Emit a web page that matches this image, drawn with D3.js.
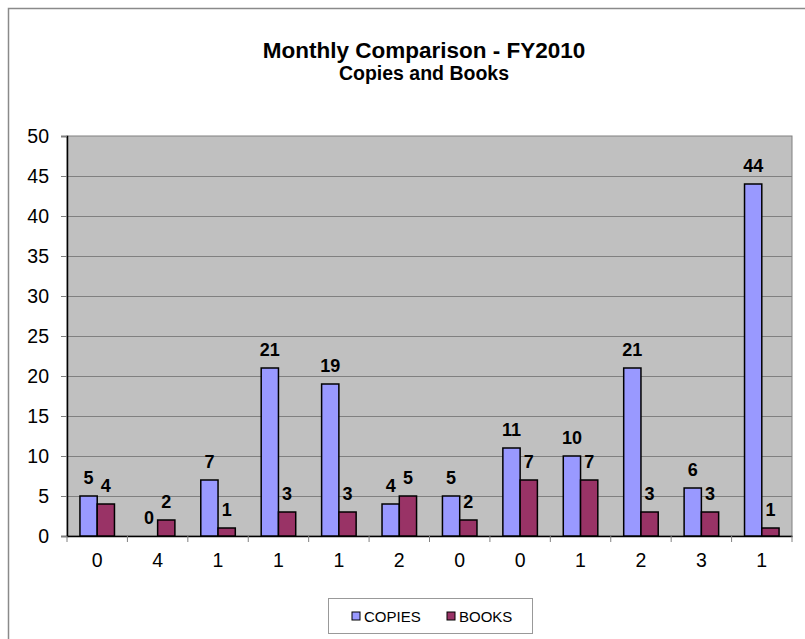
<!DOCTYPE html>
<html lang="en">
<head>
  <meta charset="UTF-8">
  <script src="https://d3js.org/d3.v7.min.js"></script>
  <title>Monthly Comparison - FY2010</title>
  <style>
    body { margin: 0; background: #fff; }
    svg text { font-family: "Liberation Sans", Arial, sans-serif; fill: #000; }
    .grid line { stroke: #808080; stroke-width: 1px; }
    .bar { stroke: #000; stroke-width: 1.5px; }
  </style>
</head>
<body>
  <svg></svg>
  <script>
    // chart data
    const categories = ['0', '4', '1', '1', '1', '2', '0', '0', '1', '2', '3', '1']
    const seriesNames = ['COPIES', 'BOOKS']
    const copies = [5, 0, 7, 21, 19, 4, 5, 11, 10, 21, 6, 44]
    const books = [4, 2, 1, 3, 3, 5, 2, 7, 7, 3, 3, 1]
    const yTicks = [0, 5, 10, 15, 20, 25, 30, 35, 40, 45, 50]
    const colors = ['#9999FF', '#993366']

    const WIDTH = 805
    const HEIGHT = 639
    const plot = { left: 67, top: 136, right: 792, bottom: 536 }

    const svg = d3.select('svg')
      .attr('width', WIDTH)
      .attr('height', HEIGHT)

    // outer chart border (runs off the right and bottom edges)
    svg.append('rect')
      .attr('x', 8.5).attr('y', 8.5)
      .attr('width', 900).attr('height', 900)
      .attr('fill', '#fff')
      .attr('stroke', '#8a8a8a')
      .attr('stroke-width', 1.5)

    // titles
    svg.append('text')
      .attr('x', 424).attr('y', 58)
      .attr('text-anchor', 'middle')
      .style('font-size', '22.5px').style('font-weight', 'bold')
      .text('Monthly Comparison - FY2010')
    svg.append('text')
      .attr('x', 424).attr('y', 80)
      .attr('text-anchor', 'middle')
      .style('font-size', '19.5px').style('font-weight', 'bold')
      .text('Copies and Books')

    const x0 = d3.scaleBand()
      .domain(d3.range(categories.length))
      .range([plot.left, plot.right])
      .padding(0)

    const x1 = d3.scaleBand()
      .domain(seriesNames)
      .range([0, x0.bandwidth()])
      .paddingInner(0)
      .paddingOuter(0.75)

    const y = d3.scaleLinear()
      .domain([0, 50])
      .range([plot.bottom, plot.top])

    // plot area
    svg.append('rect')
      .attr('x', plot.left).attr('y', plot.top)
      .attr('width', plot.right - plot.left)
      .attr('height', plot.bottom - plot.top)
      .attr('fill', '#C0C0C0')
      .attr('stroke', '#808080')

    svg.append('g')
      .attr('class', 'grid')
      .selectAll('line')
      .data(yTicks.filter((d) => d > 0 && d < 50))
      .enter().append('line')
      .attr('x1', plot.left).attr('x2', plot.right)
      .attr('y1', (d) => y(d) + 0.5).attr('y2', (d) => y(d) + 0.5)

    // axes
    const yAxis = svg.append('g')
      .attr('transform', `translate(${plot.left},0)`)
      .call(d3.axisLeft(y).tickValues(yTicks).tickSize(6).tickPadding(12))
    yAxis.select('.domain').attr('stroke', '#000').attr('stroke-width', 1.5)
    yAxis.selectAll('.tick line').attr('stroke', '#808080')
    yAxis.selectAll('text')
      .style('font-size', '19.5px')
      .style('font-family', '"Liberation Sans", Arial, sans-serif')
      .attr('fill', '#000')

    const xAxis = svg.append('g')
      .attr('transform', `translate(0,${plot.bottom})`)
      .call(d3.axisBottom(x0).tickSize(0).tickPadding(17).tickFormat((i) => categories[i]))
    xAxis.select('.domain').attr('stroke', '#000').attr('stroke-width', 1.5)
    xAxis.selectAll('text')
      .style('font-size', '19.5px')
      .style('font-family', '"Liberation Sans", Arial, sans-serif')
      .attr('fill', '#000')

    // tick marks on band edges
    svg.append('g')
      .selectAll('line')
      .data(d3.range(categories.length + 1))
      .enter().append('line')
      .attr('x1', (i) => x0(0) + i * x0.step())
      .attr('x2', (i) => x0(0) + i * x0.step())
      .attr('y1', plot.bottom).attr('y2', plot.bottom + 6)
      .attr('stroke', '#808080')

    // bars
    const rows = categories.map((c, i) => ({
      i: i,
      values: [
        { key: 'COPIES', value: copies[i] },
        { key: 'BOOKS', value: books[i] }
      ]
    }))

    const groups = svg.append('g')
      .selectAll('g')
      .data(rows)
      .enter().append('g')
      .attr('transform', (d) => `translate(${x0(d.i)},0)`)

    groups.selectAll('rect')
      .data((d) => d.values)
      .enter().append('rect')
      .attr('class', 'bar')
      .attr('x', (d) => x1(d.key))
      .attr('y', (d) => y(d.value))
      .attr('width', x1.bandwidth())
      .attr('height', (d) => y(0) - y(d.value))
      .attr('fill', (d, j) => colors[j])
      .style('display', (d) => d.value === 0 ? 'none' : null)

    groups.selectAll('text')
      .data((d) => d.values)
      .enter().append('text')
      .attr('x', (d) => x1(d.key) + x1.bandwidth() / 2)
      .attr('y', (d) => y(d.value) - 12)
      .attr('text-anchor', 'middle')
      .style('font-size', '18px').style('font-weight', 'bold')
      .text((d) => d.value)

    // legend
    const legend = svg.append('g')
    legend.append('rect')
      .attr('x', 328.5).attr('y', 598.5)
      .attr('width', 204).attr('height', 35)
      .attr('fill', '#fff')
      .attr('stroke', '#999')

    const legendX = [352, 447]
    seriesNames.forEach((name, j) => {
      legend.append('rect')
        .attr('x', legendX[j]).attr('y', 612)
        .attr('width', 8).attr('height', 8)
        .attr('fill', colors[j])
        .attr('stroke', '#000')
      legend.append('text')
        .attr('x', legendX[j] + 12).attr('y', 621.5)
        .style('font-size', '15px')
        .text(name)
    })
  </script>
</body>
</html>
